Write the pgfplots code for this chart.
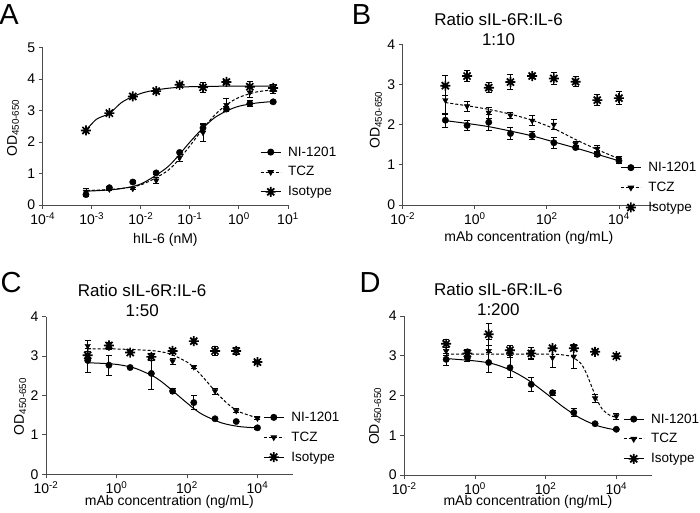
\documentclass[border=0pt]{standalone}
\usepackage{fontspec}
\setmainfont{Liberation Sans}
\usepackage{pgfplots}
\pgfplotsset{compat=1.18}

\newcommand\tk{\fontsize{14}{16}\selectfont}

% eight-ray asterisk used for the isotype control
\pgfdeclareplotmark{ast8}{%
  \pgfpathmoveto{\pgfqpoint{-\pgfplotmarksize}{0pt}}\pgfpathlineto{\pgfqpoint{\pgfplotmarksize}{0pt}}%
  \pgfpathmoveto{\pgfqpoint{0pt}{-\pgfplotmarksize}}\pgfpathlineto{\pgfqpoint{0pt}{\pgfplotmarksize}}%
  \pgfpathmoveto{\pgfqpointpolar{45}{\pgfplotmarksize}}\pgfpathlineto{\pgfqpointpolar{225}{\pgfplotmarksize}}%
  \pgfpathmoveto{\pgfqpointpolar{135}{\pgfplotmarksize}}\pgfpathlineto{\pgfqpointpolar{315}{\pgfplotmarksize}}%
  \pgfusepathqstroke}

% shared look of the four panels
\pgfplotsset{
  scale only axis, clip=false,
  axis x line*=bottom, axis y line*=left,
  xminorticks=false, yminorticks=false,
  tick align=outside, major tick length=4pt,
  axis line style={black!70, line width=0.9pt},
  tick style={black!70, line width=0.9pt},
  tick label style={font=\tk},
  label style={font=\tk},
  /pgf/number format/assume math mode=true,
  ymin=0,
  legend style={draw=none, fill=none, font=\fontsize{13.5}{15}\selectfont, anchor=north west,
    inner sep=0pt, row sep=5pt, legend cell align=left,
    /tikz/every odd column/.append style={column sep=5pt}},
  legend image code/.code={\draw[mark repeat=2,mark phase=2] plot coordinates {(0pt,0pt)(10pt,0pt)(20pt,0pt)};},
  title style={font=\fontsize{17}{20}\selectfont, align=center, anchor=south, inner sep=0pt},
  error bars/error bar style={black, line width=0.9pt, solid},
  error bars/error mark options={black, line width=0.9pt, mark size=3pt, rotate=90},
}

\begin{document}
\begin{tikzpicture}
\useasboundingbox (0pt,0pt) rectangle (700pt,512pt);

\node[font=\fontsize{29}{30}\selectfont] at (9pt,497pt) {A};
\node[font=\fontsize{29}{30}\selectfont] at (361.5pt,497pt) {B};
\node[font=\fontsize{29}{30}\selectfont] at (11pt,229pt) {C};
\node[font=\fontsize{29}{30}\selectfont] at (370pt,229pt) {D};

% ---------- A ----------
\begin{axis}[xmode=log, at={(42.7pt,307pt)}, anchor=south west,
  width=245.3pt, height=157.3pt,
  xmin=1e-4, xmax=10, xtick={1e-4,1e-3,1e-2,1e-1,1,10},
  xticklabels={10\textsuperscript{-4},10\textsuperscript{-3},10\textsuperscript{-2},10\textsuperscript{-1},10\textsuperscript{0},10\textsuperscript{1}},
  ymax=5, ytick={0,1,2,3,4,5},
  xlabel={hIL-6 (nM)}, ylabel={OD\textsubscript{450-650}},
  xlabel style={at={(axis description cs:0.5,-0.222)}, anchor=center},
  ylabel style={at={(axis description cs:-0.121,0.49)}, anchor=center},
  legend style={at={(0.886,0.385)}}]
\addplot[black, line width=1pt, smooth, forget plot] table {
x y
0.000794 0.44
0.003162 0.50
0.01 0.67
0.03162 1.15
0.05623 1.54
0.1 2.00
0.1778 2.42
0.3162 2.77
0.5623 2.99
1 3.14
2.239 3.24
5.012 3.29
};
\addplot[black, line width=1pt, smooth, dash pattern=on 3pt off 2pt, forget plot] table {
x y
0.000794 0.46
0.003162 0.51
0.01 0.64
0.03162 1.04
0.05623 1.40
0.1 1.88
0.1778 2.39
0.3162 2.85
0.5623 3.19
1 3.42
2.239 3.59
5.012 3.66
};
\addplot[black, line width=1pt, smooth, forget plot] table {
x y
0.000759 2.37
0.001259 2.73
0.002291 2.91
0.003981 3.25
0.006918 3.45
0.01259 3.59
0.03162 3.70
0.1 3.76
1 3.78
5.012 3.78
};
\addplot[only marks, black, mark=*, mark size=3.2pt, forget plot, error bars/.cd, y dir=both, y explicit] table[y error=e] {
x y e
0.000762 0.33 0.05
0.002286 0.55 0.04
0.006859 0.73 0.04
0.02058 1.02 0.04
0.06173 1.67 0.05
0.1852 2.45 0.12
0.5556 3.05 0.08
1.667 3.22 0.10
5 3.28 0.04
};
\addplot[only marks, black, mark=triangle*, mark size=3.2pt, mark options={rotate=180}, forget plot, error bars/.cd, y dir=both, y explicit] table[y error=e] {
x y e
0.000762 0.42 0.10
0.002286 0.50 0.04
0.006859 0.52 0.04
0.02058 0.78 0.10
0.06173 1.50 0.10
0.1852 2.30 0.28
0.5556 3.18 0.20
1.667 3.58 0.15
5 3.65 0.12
};
\addplot[only marks, black, mark=ast8, mark size=5pt, mark options={line width=1.7pt}, forget plot, error bars/.cd, y dir=both, y explicit] table[y error=e] {
x y e
0.000762 2.37 0.05
0.002286 2.92 0.04
0.006859 3.45 0.04
0.02058 3.62 0.04
0.06173 3.82 0.05
0.1852 3.74 0.15
0.5556 3.91 0.05
1.667 3.76 0.16
5 3.72 0.10
};
\addlegendimage{black, line width=1pt, mark=*, mark size=3pt}\addlegendentry{NI-1201}
\addlegendimage{black, line width=1pt, dash pattern=on 3pt off 2pt, mark=triangle*, mark size=3pt, mark options={solid, rotate=180}}\addlegendentry{TCZ}
\addlegendimage{black, line width=1pt, mark=ast8, mark size=5pt, mark options={line width=1.7pt}}\addlegendentry{Isotype}
\end{axis}

% ---------- B ----------
\begin{axis}[xmode=log, at={(402.7pt,307pt)}, anchor=south west,
  width=252.3pt, height=160.7pt,
  xmin=1e-2, xmax=1e5, xtick={1e-2,1,1e2,1e4},
  xticklabels={10\textsuperscript{-2},10\textsuperscript{0},10\textsuperscript{2},10\textsuperscript{4}},
  ymax=4, ytick={0,1,2,3,4},
  title={Ratio sIL-6R:IL-6\\1:10},
  title style={at={(axis description cs:0.38,1)}, yshift=-8pt},
  xlabel={mAb concentration (ng/mL)}, ylabel={OD\textsubscript{450-650}},
  xlabel style={at={(axis description cs:0.5,-0.205)}, anchor=center},
  ylabel style={at={(axis description cs:-0.106,0.53)}, anchor=center},
  legend style={at={(0.862,0.28)}}]
\addplot[black, line width=1pt, smooth, forget plot] table {
x y
0.1526 2.10
0.6104 2.03
2.441 1.95
9.766 1.84
39.06 1.72
156.25 1.57
625 1.42
2500 1.26
10000 1.10
};
\addplot[black, line width=1pt, smooth, dash pattern=on 3pt off 2pt, forget plot] table {
x y
0.1526 2.55
0.6104 2.47
2.441 2.38
9.766 2.26
39.06 2.11
156.25 1.90
625 1.63
2500 1.38
10000 1.15
};
\addplot[only marks, black, mark=*, mark size=3.2pt, forget plot, error bars/.cd, y dir=both, y explicit] table[y error=e] {
x y e
0.1526 2.11 0.18
0.6104 1.98 0.12
2.441 2.06 0.20
9.766 1.78 0.15
39.06 1.73 0.09
156.25 1.55 0.14
625 1.43 0.05
2500 1.26 0.05
10000 1.10 0.06
};
\addplot[only marks, black, mark=triangle*, mark size=3.2pt, mark options={rotate=180}, forget plot, error bars/.cd, y dir=both, y explicit] table[y error=e] {
x y e
0.1526 2.61 0.35
0.6104 2.46 0.12
2.441 2.30 0.14
9.766 2.23 0.07
39.06 2.10 0.12
156.25 2.00 0.13
625 1.52 0.07
2500 1.40 0.07
10000 1.17 0.05
};
\addplot[only marks, black, mark=ast8, mark size=5pt, mark options={line width=1.7pt}, forget plot, error bars/.cd, y dir=both, y explicit] table[y error=e] {
x y e
0.1526 2.97 0.25
0.6104 3.21 0.14
2.441 2.92 0.12
9.766 3.06 0.18
39.06 3.21 0.05
156.25 3.15 0.15
625 3.07 0.12
2500 2.61 0.13
10000 2.66 0.16
};
\addlegendimage{black, line width=1pt, mark=*, mark size=3pt}\addlegendentry{NI-1201}
\addlegendimage{black, line width=1pt, dash pattern=on 3pt off 2pt, mark=triangle*, mark size=3pt, mark options={solid, rotate=180}}\addlegendentry{TCZ}
\addlegendimage{only marks, black, mark=ast8, mark size=5pt, mark options={line width=1.7pt}}\addlegendentry{Isotype}
\end{axis}

% ---------- C ----------
\begin{axis}[xmode=log, at={(46pt,37.7pt)}, anchor=south west,
  width=246.7pt, height=157.6pt,
  xmin=1e-2, xmax=1e5, xtick={1e-2,1,1e2,1e4},
  xticklabels={10\textsuperscript{-2},10\textsuperscript{0},10\textsuperscript{2},10\textsuperscript{4}},
  ymax=4, ytick={0,1,2,3,4},
  title={Ratio sIL-6R:IL-6\\1:50},
  title style={at={(axis description cs:0.39,1)}, yshift=-6pt},
  xlabel={mAb concentration (ng/mL)}, ylabel={OD\textsubscript{450-650}},
  xlabel style={at={(axis description cs:0.5,-0.178)}, anchor=center},
  ylabel style={at={(axis description cs:-0.105,0.43)}, anchor=center},
  legend style={at={(0.88,0.41)}}]
\addplot[black, line width=1pt, smooth, forget plot] table {
x y
0.1526 2.83
0.3162 2.82
1 2.79
3.162 2.70
10 2.51
17.78 2.37
31.62 2.19
56.23 2.00
100 1.81
177.8 1.63
316.2 1.49
1000 1.30
3162 1.21
10000 1.18
};
\addplot[black, line width=1pt, smooth, dash pattern=on 3pt off 2pt, forget plot] table {
x y
0.1526 3.18
1 3.18
10 3.14
31.62 3.06
100 2.85
177.8 2.66
316.2 2.42
562.3 2.16
1000 1.92
1778 1.72
3162 1.58
10000 1.43
};
\addplot[only marks, black, mark=*, mark size=3.2pt, forget plot, error bars/.cd, y dir=both, y explicit] table[y error=e] {
x y e
0.1526 2.89 0.30
0.6104 2.77 0.25
2.441 2.71 0.03
9.766 2.56 0.40
39.06 2.11 0.07
156.25 1.82 0.18
625 1.41 0.03
2500 1.34 0.03
10000 1.18 0.03
};
\addplot[only marks, black, mark=triangle*, mark size=3.2pt, mark options={rotate=180}, forget plot, error bars/.cd, y dir=both, y explicit] table[y error=e] {
x y e
0.1526 3.26 0.15
0.6104 3.22 0.06
2.441 3.10 0.05
9.766 3.00 0.06
39.06 2.87 0.08
156.25 2.72 0.04
625 2.11 0.08
2500 1.61 0.05
10000 1.42 0.04
};
\addplot[only marks, black, mark=ast8, mark size=5pt, mark options={line width=1.7pt}, forget plot, error bars/.cd, y dir=both, y explicit] table[y error=e] {
x y e
0.1526 3.02 0.10
0.6104 3.27 0.08
2.441 3.09 0.06
9.766 2.98 0.08
39.06 3.13 0.06
156.25 3.38 0.05
625 3.13 0.12
2500 3.13 0.10
10000 2.85 0.04
};
\addlegendimage{black, line width=1pt, mark=*, mark size=3pt}\addlegendentry{NI-1201}
\addlegendimage{black, line width=1pt, dash pattern=on 3pt off 2pt, mark=triangle*, mark size=3pt, mark options={solid, rotate=180}}\addlegendentry{TCZ}
\addlegendimage{black, line width=1pt, mark=ast8, mark size=5pt, mark options={line width=1.7pt}}\addlegendentry{Isotype}
\end{axis}

% ---------- D ----------
\begin{axis}[xmode=log, at={(404.3pt,37pt)}, anchor=south west,
  width=247.4pt, height=159pt,
  xmin=1e-2, xmax=1e5, xtick={1e-2,1,1e2,1e4},
  xticklabels={10\textsuperscript{-2},10\textsuperscript{0},10\textsuperscript{2},10\textsuperscript{4}},
  ymax=4, ytick={0,1,2,3,4},
  title={Ratio sIL-6R:IL-6\\1:200},
  title style={at={(axis description cs:0.38,1)}, yshift=-6pt},
  xlabel={mAb concentration (ng/mL)}, ylabel={OD\textsubscript{450-650}},
  xlabel style={at={(axis description cs:0.5,-0.172)}, anchor=center},
  ylabel style={at={(axis description cs:-0.118,0.37)}, anchor=center},
  legend style={at={(0.884,0.40)}}]
\addplot[black, line width=1pt, smooth, forget plot] table {
x y
0.1526 2.93
1 2.87
3.162 2.80
10 2.64
31.62 2.39
100 2.06
316.2 1.71
1000 1.42
3162 1.23
10000 1.13
};
\addplot[black, line width=1pt, smooth, dash pattern=on 3pt off 2pt, forget plot] table {
x y
0.1526 3.04
100 3.04
316.2 3.02
562.3 2.97
1000 2.80
1413 2.56
1995 2.23
2818 1.90
3981 1.66
6310 1.51
10000 1.45
};
\addplot[only marks, black, mark=*, mark size=3.2pt, forget plot, error bars/.cd, y dir=both, y explicit] table[y error=e] {
x y e
0.1526 2.91 0.15
0.6104 2.95 0.10
2.441 2.83 0.25
9.766 2.70 0.25
39.06 2.28 0.18
156.25 2.07 0.06
625 1.57 0.10
2500 1.29 0.03
10000 1.15 0.03
};
\addplot[only marks, black, mark=triangle*, mark size=3.2pt, mark options={rotate=180}, forget plot, error bars/.cd, y dir=both, y explicit] table[y error=e] {
x y e
0.1526 3.12 0.10
0.6104 3.05 0.08
2.441 3.12 0.30
9.766 3.05 0.10
39.06 3.04 0.10
156.25 2.95 0.25
625 2.98 0.30
2500 1.93 0.10
10000 1.48 0.08
};
\addplot[only marks, black, mark=ast8, mark size=5pt, mark options={line width=1.7pt}, forget plot, error bars/.cd, y dir=both, y explicit] table[y error=e] {
x y e
0.1526 3.30 0.10
0.6104 3.06 0.10
2.441 3.54 0.27
9.766 3.14 0.12
39.06 3.06 0.15
156.25 3.19 0.05
625 3.19 0.06
2500 3.10 0.05
10000 2.99 0.06
};
\addlegendimage{black, line width=1pt, mark=*, mark size=3pt}\addlegendentry{NI-1201}
\addlegendimage{black, line width=1pt, dash pattern=on 3pt off 2pt, mark=triangle*, mark size=3pt, mark options={solid, rotate=180}}\addlegendentry{TCZ}
\addlegendimage{black, line width=1pt, mark=ast8, mark size=5pt, mark options={line width=1.7pt}}\addlegendentry{Isotype}
\end{axis}
\end{tikzpicture}
\end{document}
